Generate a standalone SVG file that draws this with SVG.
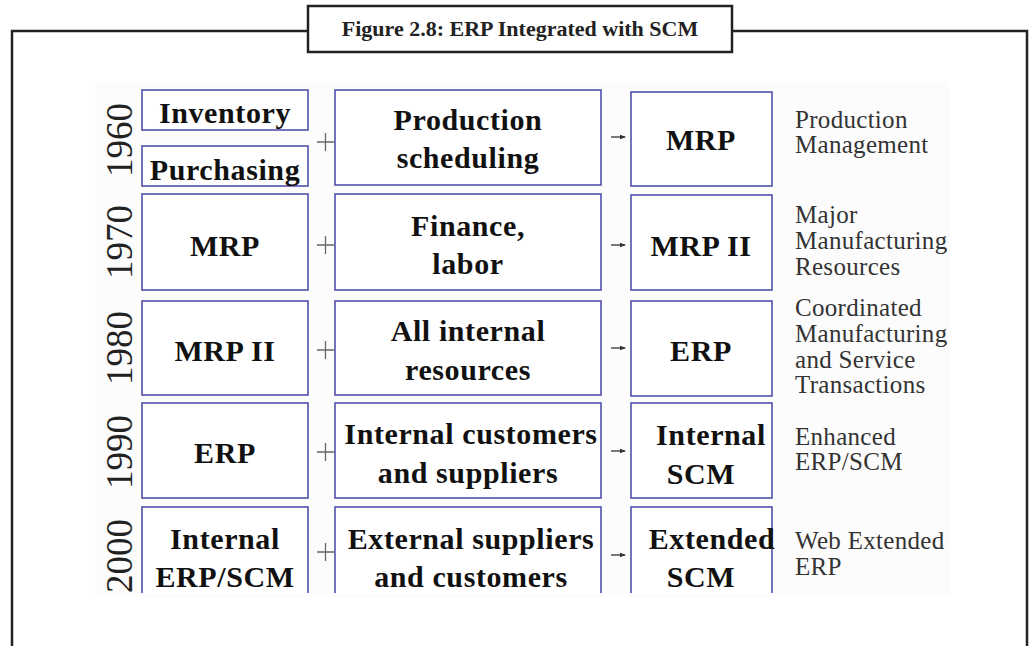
<svg xmlns="http://www.w3.org/2000/svg" width="1032" height="646" viewBox="0 0 1032 646">
<defs>
<style>
.frame{fill:none;stroke:#222;stroke-width:2.5}
.box{fill:#fff;stroke:#4646a8;stroke-width:1.5}
.bt{font-family:"Liberation Serif",serif;font-weight:bold;font-size:30px;fill:#111;text-anchor:middle;letter-spacing:0.6px}
.desc{font-family:"Liberation Serif",serif;font-size:25px;fill:#333;letter-spacing:0.3px}
.yr{font-family:"Liberation Serif",serif;font-size:37px;fill:#222;text-anchor:middle}
.plus{stroke:#666;stroke-width:1.3;fill:none}
.arr{stroke:#333;stroke-width:1.3;fill:none}
</style>
<marker id="ah" markerWidth="6" markerHeight="6" refX="5" refY="3" orient="auto" markerUnits="userSpaceOnUse">
<path d="M0,0.8 L6,3 L0,5.2 Z" fill="#333"/>
</marker>
<clipPath id="pic"><rect x="95" y="82" width="855" height="515"/></clipPath>
</defs>
<rect width="1032" height="646" fill="#fff"/>
<g id="frame">
<path class="frame" d="M12,646 V31 H308 M732,31 H1027 V646"/>
<rect class="frame" x="308" y="6" width="424" height="46" fill="#fff"/>
<text x="520" y="36" text-anchor="middle" font-family="Liberation Serif,serif" font-weight="bold" font-size="22" fill="#222">Figure 2.8: ERP Integrated with SCM</text>
</g>
<rect x="95" y="82" width="855" height="515" fill="#fcfcfc"/>
<g id="years">
<text class="yr" transform="translate(132,140) rotate(-90)">1960</text>
<text class="yr" transform="translate(132,242) rotate(-90)">1970</text>
<text class="yr" transform="translate(132,348) rotate(-90)">1980</text>
<text class="yr" transform="translate(132,452) rotate(-90)">1990</text>
<text class="yr" transform="translate(132,556) rotate(-90)">2000</text>
</g>
<g id="r1960">
<g id="inventory"><rect class="box" x="142" y="90" width="166" height="40"/><text class="bt" x="225" y="123">Inventory</text></g>
<g id="purchasing"><rect class="box" x="142" y="146" width="166" height="40"/><text class="bt" x="225" y="180">Purchasing</text></g>
<g id="prodsched"><rect class="box" x="335" y="90" width="266" height="95"/><text class="bt" x="468" y="130">Production</text><text class="bt" x="468" y="168">scheduling</text></g>
<g id="mrp1"><rect class="box" x="631" y="92" width="141" height="94"/><text class="bt" x="701" y="150">MRP</text></g>
</g>
<g id="r1970">
<g id="mrp2"><rect class="box" x="142" y="194" width="166" height="96"/><text class="bt" x="225" y="256">MRP</text></g>
<g id="finance"><rect class="box" x="335" y="194" width="266" height="96"/><text class="bt" x="468" y="236">Finance,</text><text class="bt" x="468" y="274">labor</text></g>
<g id="mrpii1"><rect class="box" x="631" y="195" width="141" height="95"/><text class="bt" x="701" y="256">MRP II</text></g>
</g>
<g id="r1980">
<g id="mrpii2"><rect class="box" x="142" y="301" width="166" height="94"/><text class="bt" x="225" y="361">MRP II</text></g>
<g id="allint"><rect class="box" x="335" y="301" width="266" height="94"/><text class="bt" x="468" y="341">All internal</text><text class="bt" x="468" y="380">resources</text></g>
<g id="erp1"><rect class="box" x="631" y="301" width="141" height="95"/><text class="bt" x="701" y="361">ERP</text></g>
</g>
<g id="r1990">
<g id="erp2"><rect class="box" x="142" y="403" width="166" height="95"/><text class="bt" x="225" y="463">ERP</text></g>
<g id="intcust"><rect class="box" x="335" y="403" width="266" height="95"/><text class="bt" x="471" y="444">Internal customers</text><text class="bt" x="468" y="483">and suppliers</text></g>
<g id="intscm"><rect class="box" x="631" y="403" width="141" height="95"/><text class="bt" x="711" y="445">Internal</text><text class="bt" x="701" y="484">SCM</text></g>
</g>
<g id="r2000">
<g id="interp"><path class="box" d="M142,593 V507 H308 V593"/><text class="bt" x="225" y="549">Internal</text><text class="bt" x="225" y="587">ERP/SCM</text></g>
<g id="extsup"><path class="box" d="M335,593 V507 H601 V593"/><text class="bt" x="471" y="549">External suppliers</text><text class="bt" x="471" y="587">and customers</text></g>
<g id="extscm"><path class="box" d="M631,593 V507 H772 V593"/><text class="bt" x="712" y="549">Extended</text><text class="bt" x="701" y="587">SCM</text></g>
</g>
<g id="descriptions" clip-path="url(#pic)">
<text class="desc" x="795" y="128">Production</text>
<text class="desc" x="795" y="153">Management</text>
<text class="desc" x="795" y="223">Major</text>
<text class="desc" x="795" y="249">Manufacturing</text>
<text class="desc" x="795" y="275">Resources</text>
<text class="desc" x="795" y="316">Coordinated</text>
<text class="desc" x="795" y="342">Manufacturing</text>
<text class="desc" x="795" y="368">and Service</text>
<text class="desc" x="795" y="393">Transactions</text>
<text class="desc" x="795" y="445">Enhanced</text>
<text class="desc" x="795" y="470">ERP/SCM</text>
<text class="desc" x="795" y="549">Web Extended</text>
<text class="desc" x="795" y="575">ERP</text>
</g>
<g id="connectors">
<path class="plus" d="M317,142 H334 M325.5,133 V151"/>
<path class="plus" d="M317,245 H334 M325.5,236 V254"/>
<path class="plus" d="M317,350 H334 M325.5,341 V359"/>
<path class="plus" d="M317,452 H334 M325.5,443 V461"/>
<path class="plus" d="M317,552 H334 M325.5,543 V561"/>
<path class="arr" d="M611,137 H625" marker-end="url(#ah)"/>
<path class="arr" d="M611,245 H625" marker-end="url(#ah)"/>
<path class="arr" d="M611,348 H625" marker-end="url(#ah)"/>
<path class="arr" d="M611,451 H625" marker-end="url(#ah)"/>
<path class="arr" d="M611,555 H625" marker-end="url(#ah)"/>
</g>
</svg>
